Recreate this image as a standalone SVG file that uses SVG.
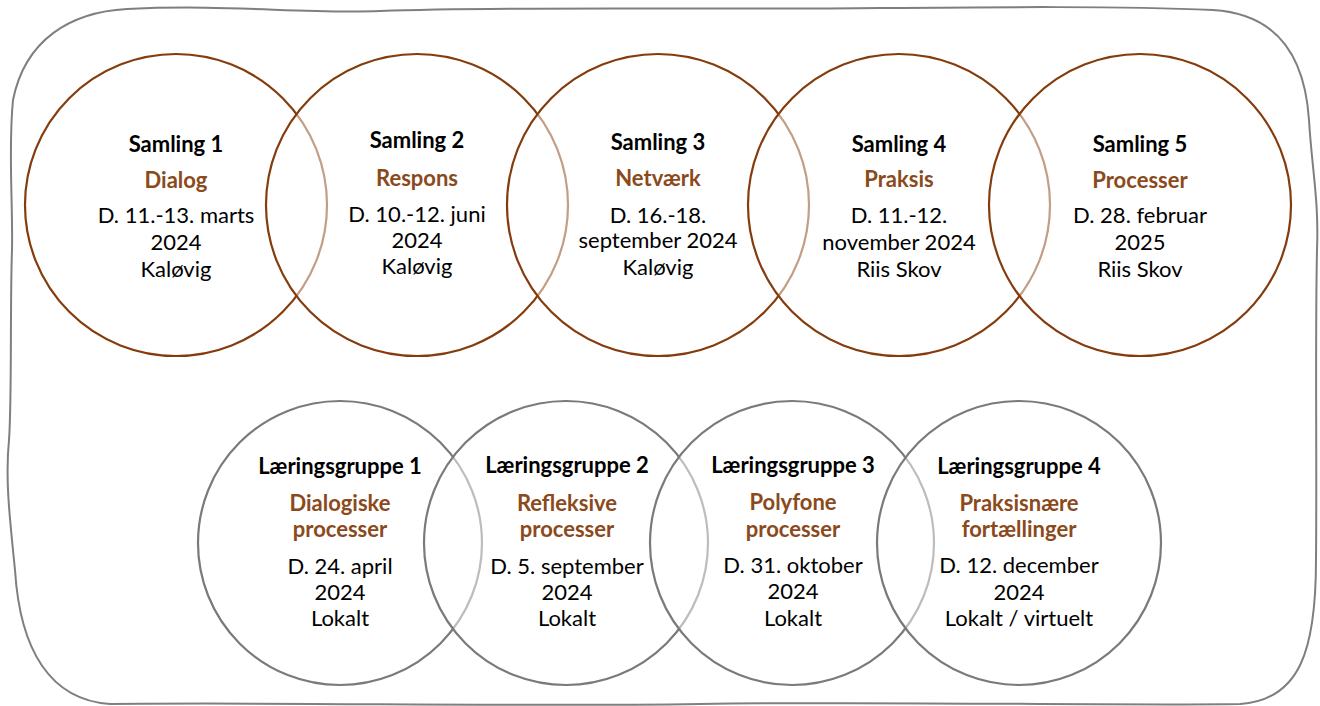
<svg xmlns="http://www.w3.org/2000/svg" width="1320" height="706" viewBox="0 0 1320 706">
<style>
.bg{fill:#ffffff}
.frame{fill:none;stroke:#7f7f7f;stroke-width:2}
.top{fill:#ffffff;fill-opacity:0.5;stroke:#843c0c;stroke-width:2.2}
.bot{fill:#ffffff;fill-opacity:0.5;stroke:#7a7a7a;stroke-width:2.2}
text{font-family:Lato,"Liberation Sans",sans-serif;font-size:22px;text-anchor:middle;fill:#000000}
.h{font-weight:bold}
.s{font-weight:bold;fill:#8b4a1c}
</style>
<rect class="bg" x="0" y="0" width="1320" height="706"/>
<g id="frame">
<path class="frame" d="M127,9 C230,4 300,14 380,11 C520,6 700,10 880,8 C1000,7 1120,6 1213,10 C1280,14 1305,60 1309,120 C1312,170 1319,200 1317,250 C1315,350 1317,450 1316,560 C1316,650 1300,700 1240,704 C1100,706 900,701 700,704 C500,707 300,702 110,704 C50,700 20,650 15,570 C10,520 5,480 9,440 C12,400 10,300 12,250 C13,200 8,150 13,100 C25,40 70,12 127,9 Z"/>
</g>
<g id="samling1">
<circle class="top" cx="176" cy="205" r="151"/>
<text class="h" x="176" y="152">Samling 1</text>
<text class="s" x="176" y="188">Dialog</text>
<text x="176" y="223">D. 11.-13. marts</text>
<text x="176" y="250">2024</text>
<text x="176" y="277">Kaløvig</text>
</g>
<g id="samling2">
<circle class="top" cx="417" cy="205" r="151"/>
<text class="h" x="417" y="148">Samling 2</text>
<text class="s" x="417" y="186">Respons</text>
<text x="417" y="222">D. 10.-12. juni</text>
<text x="417" y="248">2024</text>
<text x="417" y="274">Kaløvig</text>
</g>
<g id="samling3">
<circle class="top" cx="658" cy="205" r="151"/>
<text class="h" x="658" y="150">Samling 3</text>
<text class="s" x="658" y="186">Netværk</text>
<text x="658" y="223">D. 16.-18.</text>
<text x="658" y="248">september 2024</text>
<text x="658" y="275">Kaløvig</text>
</g>
<g id="samling4">
<circle class="top" cx="899" cy="205" r="151"/>
<text class="h" x="899" y="152">Samling 4</text>
<text class="s" x="899" y="187">Praksis</text>
<text x="899" y="223">D. 11.-12.</text>
<text x="899" y="250">november 2024</text>
<text x="899" y="277">Riis Skov</text>
</g>
<g id="samling5">
<circle class="top" cx="1140" cy="205" r="151"/>
<text class="h" x="1140" y="152">Samling 5</text>
<text class="s" x="1140" y="188">Processer</text>
<text x="1140" y="223">D. 28. februar</text>
<text x="1140" y="250">2025</text>
<text x="1140" y="277">Riis Skov</text>
</g>
<g id="laeringsgruppe1">
<circle class="bot" cx="340" cy="543" r="142"/>
<text class="h" x="340" y="474">Læringsgruppe 1</text>
<text class="s" x="340" y="511">Dialogiske</text>
<text class="s" x="340" y="537">processer</text>
<text x="340" y="574">D. 24. april</text>
<text x="340" y="600">2024</text>
<text x="340" y="626">Lokalt</text>
</g>
<g id="laeringsgruppe2">
<circle class="bot" cx="566" cy="543" r="142"/>
<text class="h" x="567" y="473">Læringsgruppe 2</text>
<text class="s" x="567" y="511">Refleksive</text>
<text class="s" x="567" y="537">processer</text>
<text x="567" y="574">D. 5. september</text>
<text x="567" y="600">2024</text>
<text x="567" y="626">Lokalt</text>
</g>
<g id="laeringsgruppe3">
<circle class="bot" cx="792" cy="543" r="142"/>
<text class="h" x="793" y="473">Læringsgruppe 3</text>
<text class="s" x="793" y="510">Polyfone</text>
<text class="s" x="793" y="537">processer</text>
<text x="793" y="573">D. 31. oktober</text>
<text x="793" y="599">2024</text>
<text x="793" y="626">Lokalt</text>
</g>
<g id="laeringsgruppe4">
<circle class="bot" cx="1019" cy="543" r="142"/>
<text class="h" x="1019" y="474">Læringsgruppe 4</text>
<text class="s" x="1019" y="511">Praksisnære</text>
<text class="s" x="1019" y="537">fortællinger</text>
<text x="1019" y="573">D. 12. december</text>
<text x="1019" y="600">2024</text>
<text x="1019" y="626">Lokalt / virtuelt</text>
</g>
<g id="connectors"></g>
</svg>
